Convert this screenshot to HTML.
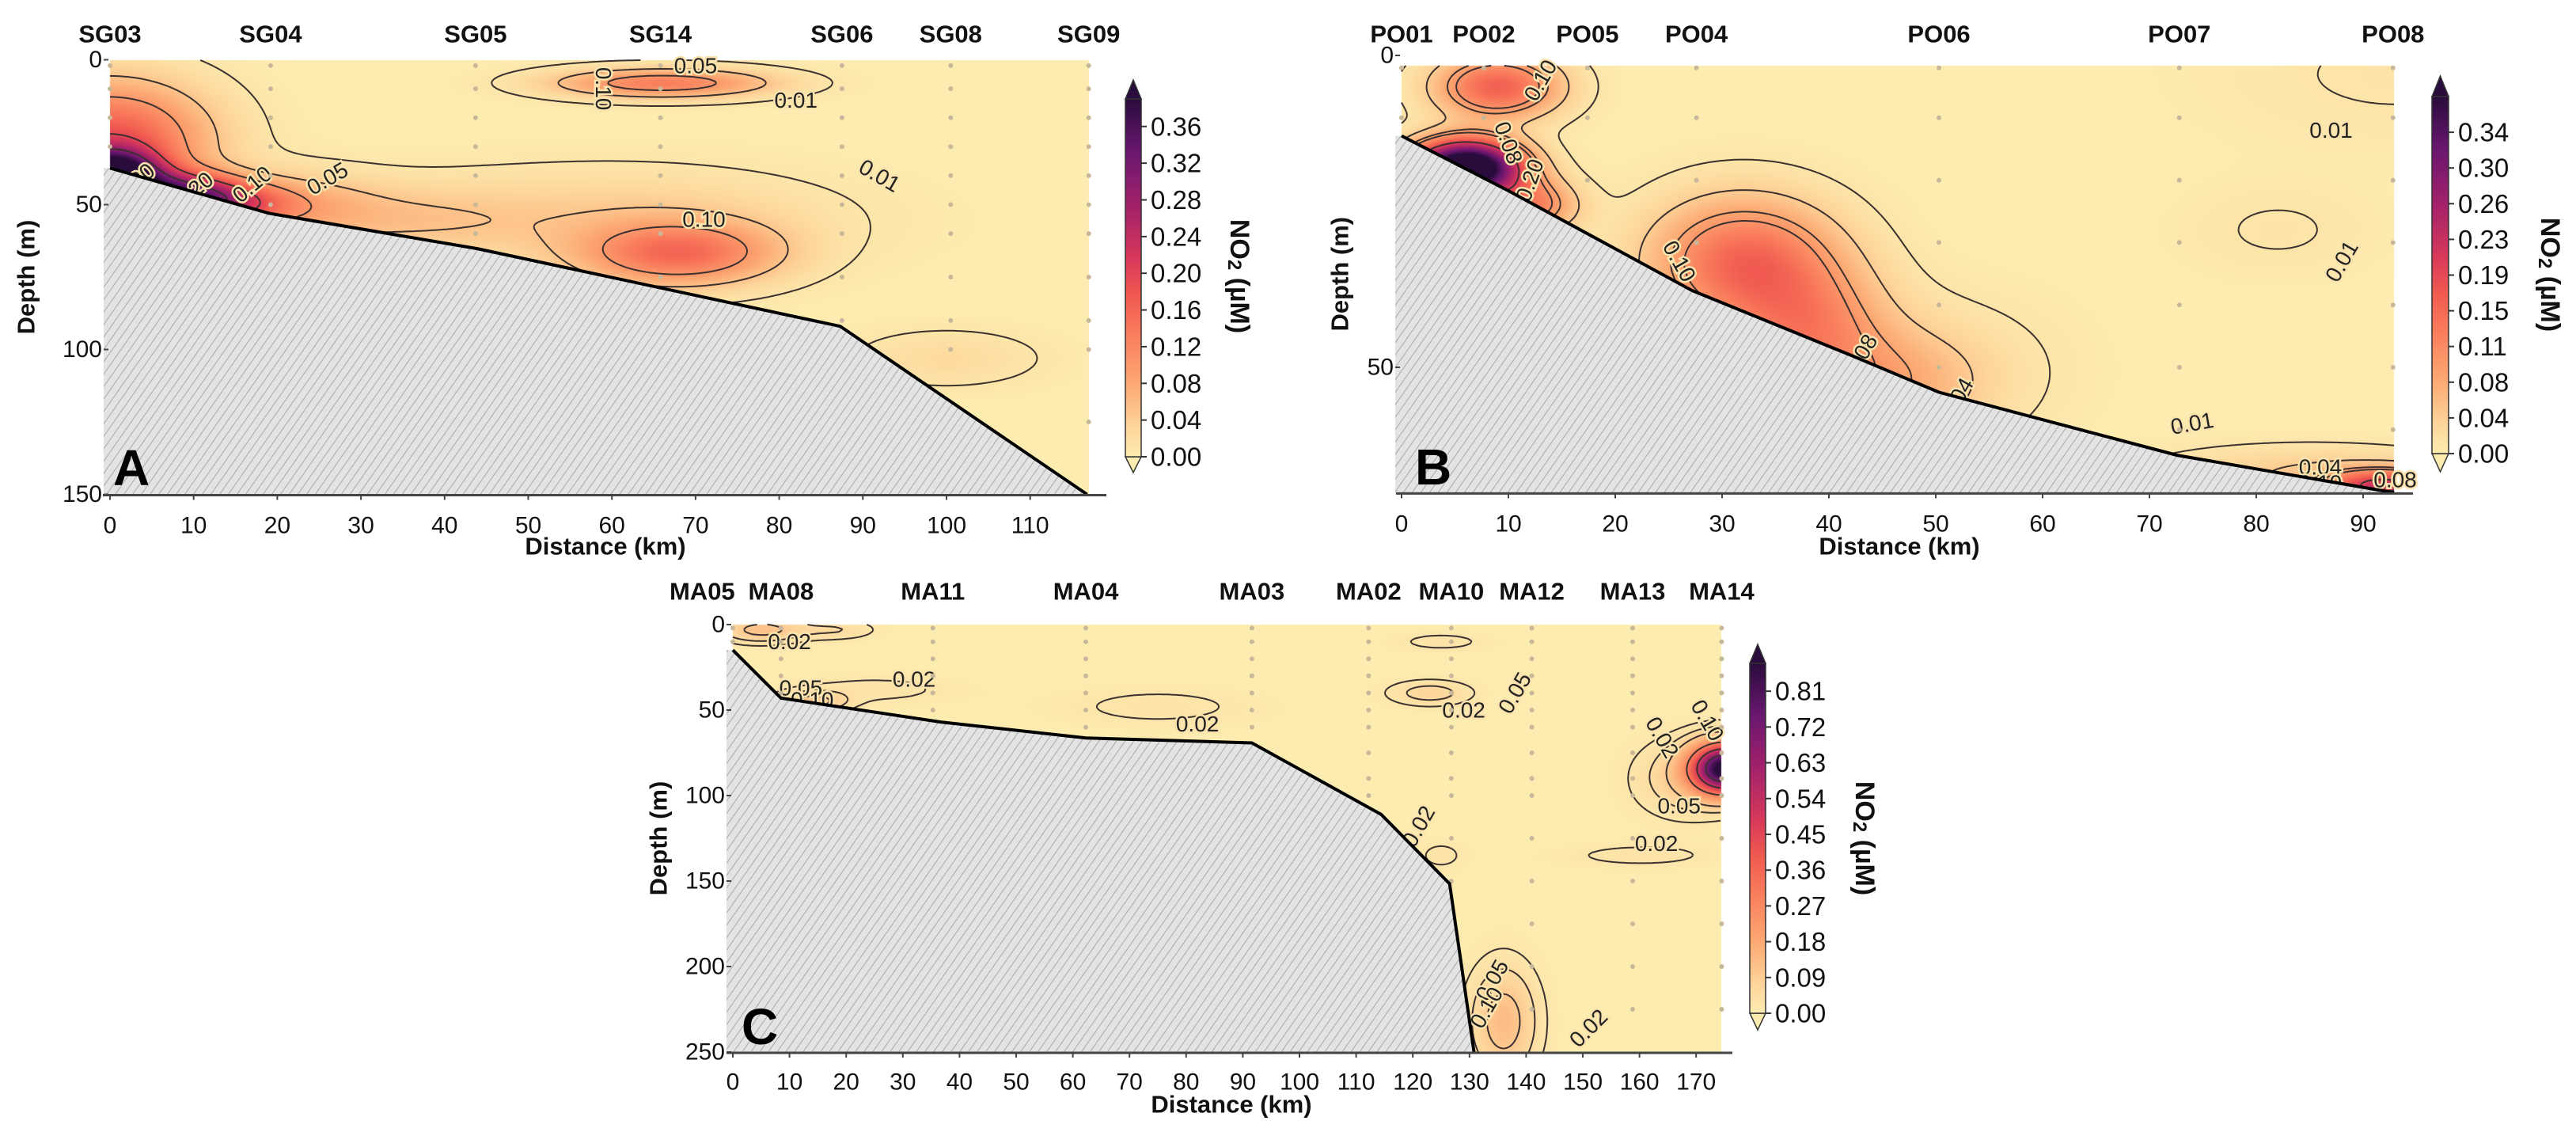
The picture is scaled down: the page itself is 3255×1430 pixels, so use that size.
<!DOCTYPE html>
<html><head><meta charset="utf-8">
<style>
html,body{margin:0;padding:0;background:#fff;}
#wrap{position:relative;width:3255px;height:1430px;overflow:hidden;}
canvas{position:absolute;left:0;top:0;}
svg{position:absolute;left:0;top:0;}
text{font-family:"Liberation Sans",sans-serif;}
</style></head>
<body>
<div id="wrap">
<canvas id="cv" width="3255" height="1430"></canvas>
<svg id="sv" width="3255" height="1430" xmlns="http://www.w3.org/2000/svg">
<defs>
<pattern id="hatch" patternUnits="userSpaceOnUse" width="9" height="9" patternTransform="rotate(35)">
<rect width="9" height="9" fill="#e3e3e3"/>
<line x1="0" y1="0" x2="0" y2="9" stroke="#a9a9a9" stroke-width="2"/>
</pattern>
</defs>
</svg>
</div>
<script>
// ---------- Panel A data ----------
const A_stationNames = ["SG03","SG04","SG05","SG14","SG06","SG08","SG09"];
const A_stationKm = [0,19.2,43.7,65.8,87.5,100.5,117];
const A_bathyKm = [0,19,43.9,87.3,116.8];
const A_bathyDepth = [37.4,53,65.2,92,150];
const A_blobKm = [0,8,14,0,22,66,68,60,35,100];
const A_blobDepth = [40,46,50,28,50,8,67,55,55,103];
const A_blobValue = [0.40,0.25,0.15,0.18,0.06,0.13,0.14,0.04,0.035,0.025];
const A_blobSx = [4,5,5,8,7,9,8,18,10,8];
const A_blobSd = [6,5,5,14,8,3.5,7.5,12,8,7];
const A_levels = [0.01,0.05,0.10,0.20,0.30];
const A_cbTickVals = [0,0.04,0.08,0.12,0.16,0.20,0.24,0.28,0.32,0.36];
const A_cbTickLabels = ["0.00","0.04","0.08","0.12","0.16","0.20","0.24","0.28","0.32","0.36"];
const A_xTicks = [0,10,20,30,40,50,60,70,80,90,100,110];
const A_yTicks = [0,50,100,150];
const A_labelText = ["0.30","0.20","0.10","0.05","0.10","0.05","0.01","0.10","0.01"];
const A_labelKm = [3,10,17,26,59,70,82,71,92];
const A_labelDepth = [42,45,43,41,10,2,14,55,40];
const A_labelRot = [-40,-40,-40,-30,90,0,0,0,30];

// ---------- Panel B data ----------
const B_stationNames = ["PO01","PO02","PO05","PO04","PO06","PO07","PO08"];
const B_stationKm = [0,7.7,17.4,27.6,50.3,72.8,92.8];
const B_bathyKm = [0,10,27.2,42.1,50.3,72.6,92.9];
const B_bathyDepth = [12.9,21.7,37.7,48.1,54,64.1,70.1];
const B_blobKm = [6,9,12,32,38,45,92,85,82,93,50];
const B_blobDepth = [18,5,24,33,44,53,69,67,28,3,50];
const B_blobValue = [0.5,0.16,0.12,0.15,0.10,0.06,0.2,0.04,0.012,0.012,0.02];
const B_blobSx = [3.5,4,3,6,5,6,4,10,6,12,8];
const B_blobSd = [3,3.5,3,7,7,6,1.8,3,5,8,8];
const B_levels = [0.01,0.04,0.08,0.10,0.20];
const B_cbTickVals = [0,0.0375,0.075,0.1125,0.15,0.1875,0.225,0.2625,0.3,0.3375];
const B_cbTickLabels = ["0.00","0.04","0.08","0.11","0.15","0.19","0.23","0.26","0.30","0.34"];
const B_xTicks = [0,10,20,30,40,50,60,70,80,90];
const B_yTicks = [0,50];
const B_labelText = ["0.10","0.08","0.20","0.10","0.08","0.04","0.01","0.01","0.01","0.04","0.10","0.08"];
const B_labelKm = [13,10,12,26,43,52,74,87,88,86,86,93];
const B_labelDepth = [4,14,20,33,48,55,59,12,33,66,68.5,68];
const B_labelRot = [-60,70,-70,60,-60,-60,-10,0,-60,0,0,0];

// ---------- Panel C data ----------
const C_stationNames = ["MA05","MA08","MA11","MA04","MA03","MA02","MA10","MA12","MA13","MA14"];
const C_stationKm = [-5.4,8.5,35.3,62.3,91.6,112.2,126.8,141,158.8,174.5];
const C_bathyKm = [0,8.5,36.7,62.3,91.6,114.4,126.5,130.8];
const C_bathyDepth = [14.9,43,57,66.3,69.2,111,151.6,250];
const C_blobKm = [175,168,5,18,14,25,75,123,125,136,160,125];
const C_blobDepth = [84,90,3,3,45,38,48,40,10,232,135,135];
const C_blobValue = [0.9,0.08,0.12,0.05,0.12,0.03,0.03,0.07,0.03,0.13,0.03,0.03];
const C_blobSx = [4,6,5,5,4,10,12,5,6,4,10,3];
const C_blobSd = [10,15,5,4,4,6,8,5,4,22,5,6];
const C_levels = [0.02,0.05,0.10,0.30,0.50,0.70];
const C_cbTickVals = [0,0.09,0.18,0.27,0.36,0.45,0.54,0.63,0.72,0.81];
const C_cbTickLabels = ["0.00","0.09","0.18","0.27","0.36","0.45","0.54","0.63","0.72","0.81"];
const C_xTicks = [0,10,20,30,40,50,60,70,80,90,100,110,120,130,140,150,160,170];
const C_yTicks = [0,50,100,150,200,250];
const C_labelText = ["0.02","0.05","0.10","0.02","0.02","0.02","0.05","0.02","0.05","0.10","0.02","0.02","0.05","0.10","0.02"];
const C_labelKm = [10,12,14,32,82,129,138,121,134,133,151,163,167,172,164];
const C_labelDepth = [10,37,44,32,58,50,40,118,208,224,236,128,106,56,66];
const C_labelRot = [0,0,0,0,0,0,-60,-60,-60,-60,-45,0,0,60,60];

const stationDotDepths = [2,10,20,30,40,50,60,75,90,100,125,150,175,200,225];

// ---------- geometry (layout, not data) ----------
const panels = [
 {id:"a",letter:"A",st:A_stationNames,stKm:A_stationKm,bk:A_bathyKm,bd:A_bathyDepth,
  bx:A_blobKm,by:A_blobDepth,bv:A_blobValue,bsx:A_blobSx,bsd:A_blobSd,lev:A_levels,
  cbv:A_cbTickVals,cbl:A_cbTickLabels,xt:A_xTicks,yt:A_yTicks,
  lt:A_labelText,lk:A_labelKm,ld:A_labelDepth,lr:A_labelRot,
  x0:139,ppk:10.57,xmax:117,y0:75.5,ppm:3.66,dmax:150,dTop:0,
  cbx:1422,cbw:20,cbBot:577,cbTop:125,cbTipT:101,cbTipB:597,cbMax:0.39,
  cbTitleX:1566,cbTitleY:349,stY:43,axL:130,axR:1398,yLabX:33,xTitleX:765,xTitleY:690,letX:143,letY:613,tickLabY:664},
 {id:"b",letter:"B",st:B_stationNames,stKm:B_stationKm,bk:B_bathyKm,bd:B_bathyDepth,
  bx:B_blobKm,by:B_blobDepth,bv:B_blobValue,bsx:B_blobSx,bsd:B_blobSd,lev:B_levels,
  cbv:B_cbTickVals,cbl:B_cbTickLabels,xt:B_xTicks,yt:B_yTicks,
  lt:B_labelText,lk:B_labelKm,ld:B_labelDepth,lr:B_labelRot,
  x0:1771,ppk:13.5,xmax:92.9,y0:70,ppm:7.88,dmax:70.1,dTop:1.6,
  cbx:3073,cbw:21,cbBot:573,cbTop:122,cbTipT:96,cbTipB:596,cbMax:0.375,
  cbTitleX:3222,cbTitleY:347,stY:43,axL:1764,axR:3049,yLabX:1693,xTitleX:2400,xTitleY:690,letX:1788,letY:612,tickLabY:662},
 {id:"c",letter:"C",st:C_stationNames,stKm:C_stationKm,bk:C_bathyKm,bd:C_bathyDepth,
  bx:C_blobKm,by:C_blobDepth,bv:C_blobValue,bsx:C_blobSx,bsd:C_blobSd,lev:C_levels,
  cbv:C_cbTickVals,cbl:C_cbTickLabels,xt:C_xTicks,yt:C_yTicks,
  lt:C_labelText,lk:C_labelKm,ld:C_labelDepth,lr:C_labelRot,
  x0:926,ppk:7.16,xmax:174.5,y0:789,ppm:2.16,dmax:250,dTop:0,
  cbx:2211,cbw:20,cbBot:1280,cbTop:838,cbTipT:814,cbTipB:1301,cbMax:0.88,
  cbTitleX:2356,cbTitleY:1059,stY:747,axL:918,axR:2189,yLabX:832,xTitleX:1556,xTitleY:1395,letX:937,letY:1319,tickLabY:1367}
];

const cmapStops = [[0,[253,236,176]],[0.08,[253,214,156]],[0.2,[252,170,115]],[0.35,[249,122,91]],
 [0.45,[240,90,80]],[0.55,[216,57,90]],[0.7,[163,33,106]],[0.85,[106,23,112]],[1,[42,12,60]]];
function cmap(t){
  t=Math.max(0,Math.min(1,t));
  for(let i=1;i<cmapStops.length;i++){
    if(t<=cmapStops[i][0]){
      const a=cmapStops[i-1],b=cmapStops[i],f=(t-a[0])/(b[0]-a[0]);
      return [0,1,2].map(k=>Math.round(a[1][k]+(b[1][k]-a[1][k])*f));
    }
  }
  return cmapStops[cmapStops.length-1][1];
}

const NS="http://www.w3.org/2000/svg";
const sv=document.getElementById('sv');
const ctx=document.getElementById('cv').getContext('2d');
function el(tag,attrs,parent,txt){
  const e=document.createElementNS(NS,tag);
  for(const k in attrs) e.setAttribute(k,attrs[k]);
  if(txt!==undefined) e.textContent=txt;
  (parent||sv).appendChild(e);
  return e;
}

panels.forEach(P=>{
  const X=km=>P.x0+km*P.ppk;
  const Y=d=>P.y0+d*P.ppm;
  const bathy=km=>{
    const k=P.bk,d=P.bd;
    if(km<=k[0]) return d[0];
    for(let i=1;i<k.length;i++) if(km<=k[i]) return d[i-1]+(d[i]-d[i-1])*(km-k[i-1])/(k[i]-k[i-1]);
    return d[d.length-1];
  };
  const field=(km,d)=>{
    let v=0;
    for(let i=0;i<P.bx.length;i++){
      const dx=(km-P.bx[i])/P.bsx[i],dd=(d-P.by[i])/P.bsd[i];
      v+=P.bv[i]*Math.exp(-0.5*(dx*dx+dd*dd));
    }
    return v;
  };
  const g=el('g',{});
  
  

  const px0=Math.round(X(0)),px1=Math.round(X(P.xmax)),py0=Math.round(Y(P.dTop)),py1=Math.round(Y(P.dmax));
  const W=px1-px0,H=py1-py0;
  const img=ctx.createImageData(W,H);
  for(let j=0;j<H;j++){
    const d=(py0+j-P.y0)/P.ppm;
    for(let i=0;i<W;i++){
      const km=(px0+i-P.x0)/P.ppk;
      if(d>bathy(km)+1) continue;
      const c=cmap(field(km,d)/P.cbMax);
      const o=(j*W+i)*4;
      img.data[o]=c[0];img.data[o+1]=c[1];img.data[o+2]=c[2];img.data[o+3]=255;
    }
  }
  ctx.putImageData(img,px0,py0);

  const step=3,nx=Math.ceil(W/step)+1,ny=Math.ceil(H/step)+1;
  const vals=[];
  for(let j=0;j<ny;j++){vals.push([]);for(let i=0;i<nx;i++){
    const km=(px0+i*step-P.x0)/P.ppk,d=(py0+j*step-P.y0)/P.ppm;
    vals[j].push(field(km,d));}}
  P.lev.forEach(L=>{
    let path="";
    for(let j=0;j<ny-1;j++)for(let i=0;i<nx-1;i++){
      const xs=px0+i*step,ys=py0+j*step;
      const km=(xs+step/2-P.x0)/P.ppk,d=(ys+step/2-P.y0)/P.ppm;
      if(d>bathy(km)||km>P.xmax) continue;
      const a=vals[j][i],b=vals[j][i+1],c=vals[j+1][i+1],e=vals[j+1][i];
      const pts=[];
      const edge=(v1,v2,x1,y1,x2,y2)=>{ if((v1<L)!==(v2<L)){const f=(L-v1)/(v2-v1);pts.push([x1+(x2-x1)*f,y1+(y2-y1)*f]);}};
      edge(a,b,xs,ys,xs+step,ys);
      edge(b,c,xs+step,ys,xs+step,ys+step);
      edge(c,e,xs+step,ys+step,xs,ys+step);
      edge(e,a,xs,ys+step,xs,ys);
      for(let k=0;k+1<pts.length;k+=2) path+=`M${pts[k][0].toFixed(1)} ${pts[k][1].toFixed(1)}L${pts[k+1][0].toFixed(1)} ${pts[k+1][1].toFixed(1)}`;
    }
    const p=el('path',{d:path,stroke:'#3a3030',"stroke-width":2,fill:'none'},g);
    
    
  });

  P.lt.forEach((t,i)=>{
    const x=X(P.lk[i]),y=Y(P.ld[i]);
    const tx=el('text',{x:x,y:y,"font-size":28,"text-anchor":"middle","dominant-baseline":"central",fill:'#222',
      stroke:'#fbe3ae',"stroke-width":5,"paint-order":"stroke",transform:`rotate(${P.lr[i]} ${x} ${y})`},g,t);
    
    
  });

  P.stKm.forEach(k=>{
    const kk=Math.max(0,Math.min(P.xmax,k));
    stationDotDepths.forEach(d=>{
      if(d<P.dTop||d>=bathy(kk)-1||d>P.dmax) return;
      const c=el('circle',{cx:X(kk),cy:Y(d),r:3,fill:'#c8b89a'},g);
      
      
    });
  });

  let poly=P.bk.map((k,i)=>`${X(k)},${Y(P.bd[i])}`).join(' ');
  poly+=` ${X(P.bk[P.bk.length-1])},${Y(P.dmax)} ${X(0)-8},${Y(P.dmax)} ${X(0)-8},${Y(P.bd[0])}`;
  const sea=el('polygon',{points:poly,fill:'url(#hatch)'},g);
  
  
  const bl=el('polyline',{points:P.bk.map((k,i)=>`${X(k)},${Y(P.bd[i])}`).join(' '),stroke:'#000',"stroke-width":4,fill:'none'},g);
  
  

  const ax=el('line',{x1:P.axL,x2:P.axR,y1:Y(P.dmax)+1,y2:Y(P.dmax)+1,stroke:'#444',"stroke-width":3},g);
  
  
  P.xt.forEach(v=>{
    const tk=el('line',{x1:X(v),x2:X(v),y1:Y(P.dmax),y2:Y(P.dmax)+7,stroke:'#444',"stroke-width":2},g);
    
    
    const t=el('text',{x:X(v),y:P.tickLabY,"font-size":30,"text-anchor":"middle","dominant-baseline":"central",fill:'#111'},g,String(v));
    
    
  });
  P.yt.forEach(v=>{
    const tk=el('line',{x1:X(0)-8,x2:X(0)-2,y1:Y(v),y2:Y(v),stroke:'#444',"stroke-width":2},g);
    
    
    const t=el('text',{x:X(0)-10,y:Y(v),"font-size":30,"text-anchor":"end","dominant-baseline":"central",fill:'#111'},g,String(v));
    
    
  });
  const yl=el('text',{x:P.yLabX,y:Y(P.dmax/2),"font-size":31,"font-weight":"bold","text-anchor":"middle","dominant-baseline":"central",
    transform:`rotate(-90 ${P.yLabX} ${Y(P.dmax/2)})`,fill:'#111'},g,"Depth (m)");
  
  
  const xl=el('text',{x:P.xTitleX,y:P.xTitleY,"font-size":31,"font-weight":"bold","text-anchor":"middle","dominant-baseline":"central",fill:'#111'},g,"Distance (km)");
  
  
  const lt=el('text',{x:P.letX,y:P.letY,"font-size":64,"font-weight":"bold",fill:'#000'},g,P.letter);
  
  

  P.st.forEach((n,i)=>{
    const t=el('text',{x:X(P.stKm[i]),y:P.stY,"font-size":31,"font-weight":"bold","text-anchor":"middle","dominant-baseline":"central",fill:'#111'},g,n);
    
    
  });

  const gid='grad'+P.id;
  const lg=el('linearGradient',{id:gid,x1:0,y1:1,x2:0,y2:0},sv.querySelector('defs'));
  cmapStops.forEach(s=>el('stop',{offset:s[0],"stop-color":`rgb(${s[1].join(',')})`},lg));
  const cb=el('g',{},g);
  
  
  const cx=P.cbx,cw=P.cbw;
  el('polygon',{points:`${cx},${P.cbTop} ${cx+cw/2},${P.cbTipT} ${cx+cw},${P.cbTop}`,fill:`rgb(${cmap(1).join(',')})`,stroke:'#333',"stroke-width":1.5},cb);
  el('polygon',{points:`${cx},${P.cbBot} ${cx+cw/2},${P.cbTipB} ${cx+cw},${P.cbBot}`,fill:`rgb(${cmap(0).join(',')})`,stroke:'#333',"stroke-width":1.5},cb);
  el('rect',{x:cx,y:P.cbTop,width:cw,height:P.cbBot-P.cbTop,fill:`url(#${gid})`,stroke:'#333',"stroke-width":1.5},cb);
  const cy=v=>P.cbBot-(v/P.cbMax)*(P.cbBot-P.cbTop);
  P.cbv.forEach((v,i)=>{
    el('line',{x1:cx+cw,x2:cx+cw+7,y1:cy(v),y2:cy(v),stroke:'#333',"stroke-width":2},cb);
    const t=el('text',{x:cx+cw+12,y:cy(v),"font-size":33,"dominant-baseline":"central",fill:'#111'},cb,P.cbl[i]);
    
    
  });
  const ct=el('text',{x:P.cbTitleX,y:P.cbTitleY,"font-size":34,"font-weight":"bold","text-anchor":"middle","dominant-baseline":"central",
    transform:`rotate(90 ${P.cbTitleX} ${P.cbTitleY})`,fill:'#111'},cb);
  
  
  ct.appendChild(document.createTextNode('NO'));
  const sub=el('tspan',{"font-size":24,dy:6},ct,'2');
  el('tspan',{dy:-6},ct,' (µM)');
});
</script>
</body></html>
